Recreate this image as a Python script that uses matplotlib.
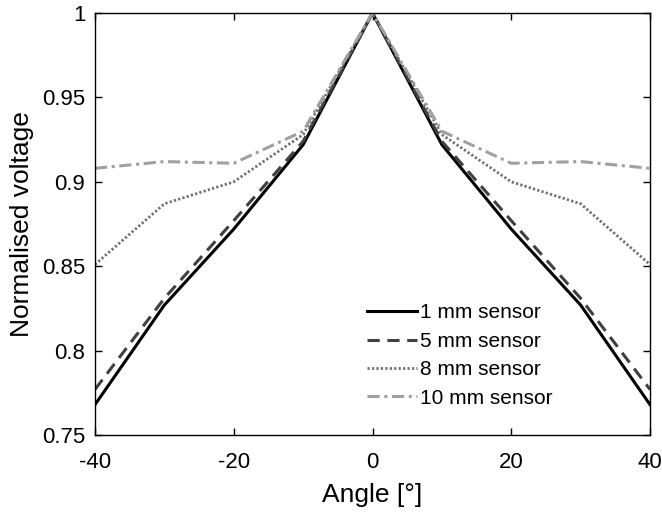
import matplotlib
matplotlib.use("Agg")
import matplotlib.pyplot as plt

plt.rcParams['font.family'] = ['Liberation Sans', 'DejaVu Sans']
plt.rcParams['axes.unicode_minus'] = False

angles = [-40, -30, -20, -10, 0, 10, 20, 30, 40]
v1 = [0.768, 0.827, 0.872, 0.922, 1.0, 0.922, 0.872, 0.827, 0.768]
v5 = [0.777, 0.831, 0.877, 0.924, 1.0, 0.924, 0.877, 0.831, 0.777]
v8 = [0.851, 0.887, 0.900, 0.928, 1.0, 0.928, 0.900, 0.887, 0.851]
v10 = [0.908, 0.912, 0.911, 0.930, 1.0, 0.930, 0.911, 0.912, 0.908]
labels = ['1 mm sensor', '5 mm sensor', '8 mm sensor', '10 mm sensor']

fig = plt.figure(figsize=(6.62, 5.13), dpi=100)
ax = fig.add_axes([0.1435, 0.152, 0.8384, 0.8226])
ax.plot(angles, v1, color='black', lw=2.2, ls='-', label=labels[0])
ax.plot(angles, v5, color='#404040', lw=2.2, ls=(0, (4, 2.5)), label=labels[1])
ax.plot(angles, v8, color='#707070', lw=2.0, ls=(0, (0.8, 0.8)), label=labels[2])
ax.plot(angles, v10, color='#a0a0a0', lw=2.2, ls=(0, (4, 1.5, 1, 1.5)), label=labels[3])

ax.set_xlim(-40, 40)
ax.set_ylim(0.75, 1.0)
ax.set_xticks([-40, -20, 0, 20, 40])
ax.set_xticklabels(['-40', '-20', '0', '20', '40'])
ax.set_yticks([0.75, 0.8, 0.85, 0.9, 0.95, 1.0])
ax.set_yticklabels(['0.75', '0.8', '0.85', '0.9', '0.95', '1'])
ax.tick_params(direction='in', labelsize=16, length=5, width=1, top=True, right=True)
ax.tick_params(axis='x', pad=12.5)
ax.tick_params(axis='y', pad=7)
for s in ax.spines.values():
    s.set_linewidth(1.0)
ax.set_xlabel('Angle [°]', fontsize=19, labelpad=7)
ax.set_ylabel('Normalised voltage', fontsize=19, labelpad=6)
leg = ax.legend(loc='lower left', bbox_to_anchor=(0.49, 0.065), frameon=False, fontsize=15,
                handlelength=2.4, handletextpad=0.15, labelspacing=0.45, borderpad=0,
                borderaxespad=0)
fig.savefig('out.png', dpi=100)
